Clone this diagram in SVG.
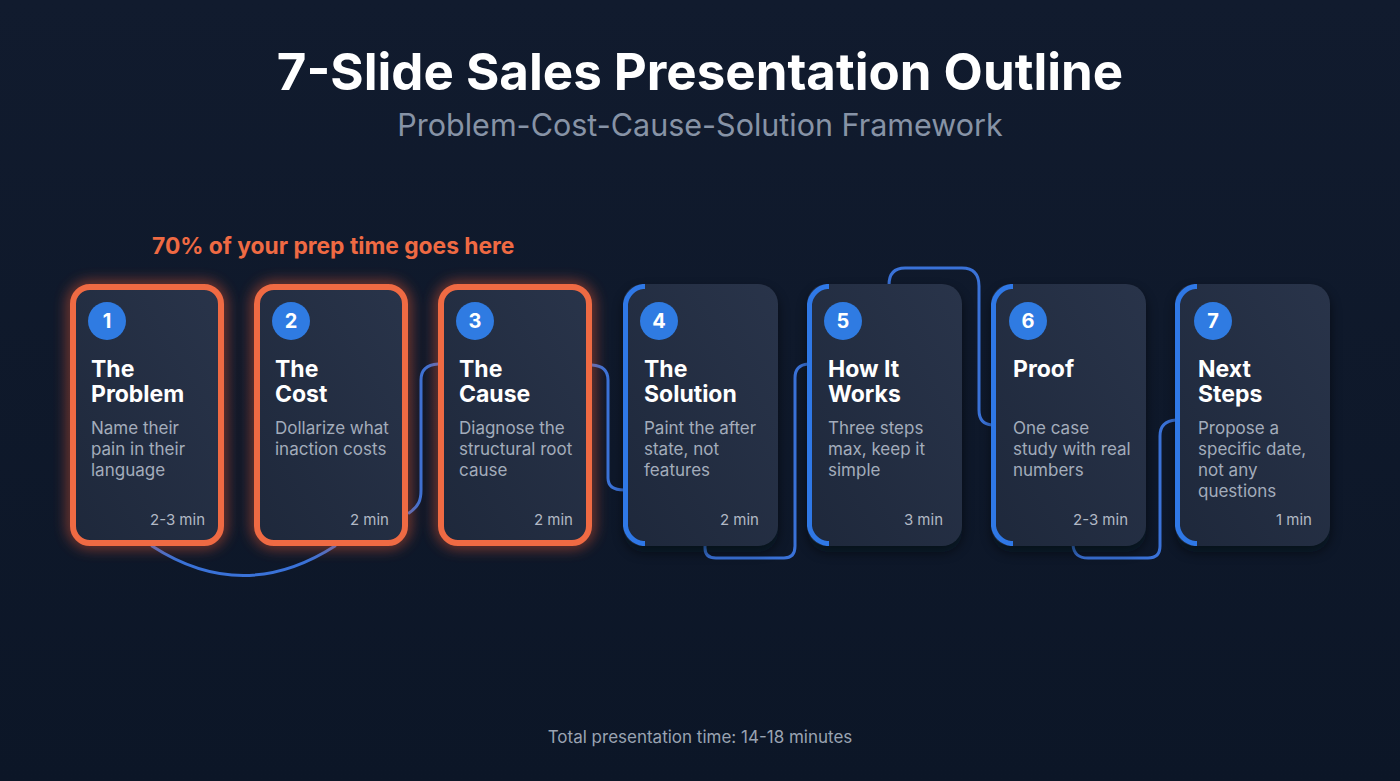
<svg xmlns="http://www.w3.org/2000/svg" width="1400" height="781" viewBox="0 0 1400 781">
<defs>
<linearGradient id="bg" x1="0" y1="0" x2="0" y2="1">
<stop offset="0" stop-color="#111b2e"/>
<stop offset="1" stop-color="#0c1627"/>
</linearGradient>
<linearGradient id="cardFill" x1="1" y1="0" x2="0" y2="1">
<stop offset="0" stop-color="#29344a"/>
<stop offset="1" stop-color="#1e283b"/>
</linearGradient>
<filter id="glow" x="-30%" y="-20%" width="160%" height="140%">
<feGaussianBlur stdDeviation="7"/>
</filter>
<filter id="shadow" x="-30%" y="-20%" width="160%" height="140%">
<feGaussianBlur stdDeviation="6"/>
</filter>
</defs>
<style>
.title{font-family:Inter,"Liberation Sans",sans-serif;font-weight:700;font-size:51px;fill:#ffffff}
.sub{font-family:Inter,"Liberation Sans",sans-serif;font-size:30.5px;fill:#8793a6}
.note{font-family:Inter,"Liberation Sans",sans-serif;font-weight:700;font-size:22.8px;fill:#ef6a43}
.foot{font-family:Inter,"Liberation Sans",sans-serif;font-size:17px;fill:#9aa3b2}
.card{fill:url(#cardFill)}
.shadow{fill:#05090f;opacity:0.55;filter:url(#shadow)}
.orange{fill:none;stroke:#ef6a43;stroke-width:6}
.oglow{fill:none;stroke:#ef5a30;stroke-width:10;opacity:0.6;filter:url(#glow)}
.accent{fill:none;stroke:#2f78e6;stroke-width:5}
.num{fill:#2f7be2}
.numt{font-family:Inter,"Liberation Sans",sans-serif;font-weight:700;font-size:20px;fill:#ffffff;text-anchor:middle}
.h{font-family:Inter,"Liberation Sans",sans-serif;font-weight:700;font-size:23px;fill:#ffffff}
.d{font-family:Inter,"Liberation Sans",sans-serif;font-size:17px;fill:#a3acbb}
.t{font-family:Inter,"Liberation Sans",sans-serif;font-size:15px;fill:#b2b9c5;text-anchor:end}
.conn{fill:none;stroke:#3a72d8;stroke-width:3;stroke-linecap:round}
</style>
<rect width="1400" height="781" fill="url(#bg)"/>
<text class="title" x="700" y="90" text-anchor="middle">7-Slide Sales Presentation Outline</text>
<text class="sub" x="700" y="136" text-anchor="middle">Problem-Cost-Cause-Solution Framework</text>
<text class="note" x="152" y="254">70% of your prep time goes here</text>

<g id="connectors">
<path class="conn" d="M152,546 Q243,605 335,546"/>
<path class="conn" d="M409,513 C419,506 421,500 421,490 L421,380 Q421,365 438,364"/>
<path class="conn" d="M592,365 Q608,366 608,380 L608,478 Q608,490 624,490"/>
<path class="conn" d="M705,545 L705,548 Q705,558 716,558 L784,558 Q795,558 795,546 L795,378 Q795,365 808,364"/>
<path class="conn" d="M889,285 Q889,268 905,268 L962,268 Q979,268 979,286 L979,410 Q979,424 992,425"/>
<path class="conn" d="M1073,545 Q1074,558 1088,558 L1148,558 Q1160,558 1160,546 L1160,436 Q1160,421 1176,420"/>
</g>

<g id="node1">
<rect class="oglow" x="73" y="287" width="148" height="256" rx="17"/>
<rect class="card" x="73" y="287" width="148" height="256" rx="17"/>
<rect class="orange" x="73" y="287" width="148" height="256" rx="17"/>
<circle class="num" cx="107" cy="321" r="19"/>
<text class="numt" x="107" y="328">1</text>
<text class="h" x="91" y="377">The</text>
<text class="h" x="91" y="402">Problem</text>
<text class="d" x="91" y="434">Name their</text>
<text class="d" x="91" y="455">pain in their</text>
<text class="d" x="91" y="476">language</text>
<text class="t" x="205" y="525">2-3 min</text>
</g>
<g id="node2">
<rect class="oglow" x="257" y="287" width="148" height="256" rx="17"/>
<rect class="card" x="257" y="287" width="148" height="256" rx="17"/>
<rect class="orange" x="257" y="287" width="148" height="256" rx="17"/>
<circle class="num" cx="291" cy="321" r="19"/>
<text class="numt" x="291" y="328">2</text>
<text class="h" x="275" y="377">The</text>
<text class="h" x="275" y="402">Cost</text>
<text class="d" x="275" y="434">Dollarize what</text>
<text class="d" x="275" y="455">inaction costs</text>
<text class="t" x="389" y="525">2 min</text>
</g>
<g id="node3">
<rect class="oglow" x="441" y="287" width="148" height="256" rx="17"/>
<rect class="card" x="441" y="287" width="148" height="256" rx="17"/>
<rect class="orange" x="441" y="287" width="148" height="256" rx="17"/>
<circle class="num" cx="475" cy="321" r="19"/>
<text class="numt" x="475" y="328">3</text>
<text class="h" x="459" y="377">The</text>
<text class="h" x="459" y="402">Cause</text>
<text class="d" x="459" y="434">Diagnose the</text>
<text class="d" x="459" y="455">structural root</text>
<text class="d" x="459" y="476">cause</text>
<text class="t" x="573" y="525">2 min</text>
</g>
<g id="node4">
<rect class="shadow" x="624" y="290" width="154" height="262" rx="20"/>
<rect class="card" x="623" y="284" width="155" height="262" rx="20"/>
<path class="accent" d="M645,286.5 L643,286.5 A20,20 0 0 0 625.5,304 V526 A20,20 0 0 0 643,543.5 H645"/>
<circle class="num" cx="659" cy="321" r="19"/>
<text class="numt" x="659" y="328">4</text>
<text class="h" x="644" y="377">The</text>
<text class="h" x="644" y="402">Solution</text>
<text class="d" x="644" y="434">Paint the after</text>
<text class="d" x="644" y="455">state, not</text>
<text class="d" x="644" y="476">features</text>
<text class="t" x="759" y="525">2 min</text>
</g>
<g id="node5">
<rect class="shadow" x="808" y="290" width="154" height="262" rx="20"/>
<rect class="card" x="807" y="284" width="155" height="262" rx="20"/>
<path class="accent" d="M829,286.5 L827,286.5 A20,20 0 0 0 809.5,304 V526 A20,20 0 0 0 827,543.5 H829"/>
<circle class="num" cx="843" cy="321" r="19"/>
<text class="numt" x="843" y="328">5</text>
<text class="h" x="828" y="377">How It</text>
<text class="h" x="828" y="402">Works</text>
<text class="d" x="828" y="434">Three steps</text>
<text class="d" x="828" y="455">max, keep it</text>
<text class="d" x="828" y="476">simple</text>
<text class="t" x="943" y="525">3 min</text>
</g>
<g id="node6">
<rect class="shadow" x="992" y="290" width="154" height="262" rx="20"/>
<rect class="card" x="991" y="284" width="155" height="262" rx="20"/>
<path class="accent" d="M1013,286.5 L1011,286.5 A20,20 0 0 0 993.5,304 V526 A20,20 0 0 0 1011,543.5 H1013"/>
<circle class="num" cx="1028" cy="321" r="19"/>
<text class="numt" x="1028" y="328">6</text>
<text class="h" x="1013" y="377">Proof</text>
<text class="d" x="1013" y="434">One case</text>
<text class="d" x="1013" y="455">study with real</text>
<text class="d" x="1013" y="476">numbers</text>
<text class="t" x="1128" y="525">2-3 min</text>
</g>
<g id="node7">
<rect class="shadow" x="1176" y="290" width="154" height="262" rx="20"/>
<rect class="card" x="1175" y="284" width="155" height="262" rx="20"/>
<path class="accent" d="M1197,286.5 L1195,286.5 A20,20 0 0 0 1177.5,304 V526 A20,20 0 0 0 1195,543.5 H1197"/>
<circle class="num" cx="1213" cy="321" r="19"/>
<text class="numt" x="1213" y="328">7</text>
<text class="h" x="1198" y="377">Next</text>
<text class="h" x="1198" y="402">Steps</text>
<text class="d" x="1198" y="434">Propose a</text>
<text class="d" x="1198" y="455">specific date,</text>
<text class="d" x="1198" y="476">not any</text>
<text class="d" x="1198" y="497">questions</text>
<text class="t" x="1312" y="525">1 min</text>
</g>

<text class="foot" x="700" y="743" text-anchor="middle">Total presentation time: 14-18 minutes</text>
</svg>
